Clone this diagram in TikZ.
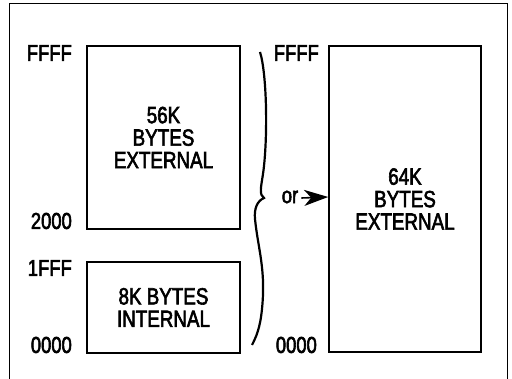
\documentclass[tikz,border=0pt]{standalone}
\usepackage{fontspec}
\setmainfont{Liberation Sans}[FakeStretch=0.8,FakeBold=2.5]
\usetikzlibrary{shapes,arrows.meta,positioning,calc}

\tikzset{
  membox/.style={draw, line width=1.6pt, inner sep=0pt, align=center,
    font=\fontsize{23.5}{22.5}\selectfont},
  addr/.style={inner sep=0pt, font=\fontsize{23}{22}\selectfont}
}

\begin{document}
\begin{tikzpicture}[x=1pt,y=1pt]
  \useasboundingbox (0,0) rectangle (512,379);
  \draw[line width=0.9pt] (9,0) -- (9,376) -- (507,376) -- (507,0);
  \node[membox, minimum width=153, minimum height=183] (ext56) at (163.5,241.5) {56K\\BYTES\\EXTERNAL};
  \node[membox, minimum width=153, minimum height=91] (int8) at (163.5,71.5) {8K BYTES\\INTERNAL};
  \node[membox, minimum width=152, minimum height=306] (ext64) at (405,180) {64K\\BYTES\\EXTERNAL};
  \node[addr, anchor=east] (hiA) at (72,326) {FFFF};
  \node[addr, anchor=east] (midA) at (72,158) {2000};
  \node[addr, anchor=east] (midB) at (72,111) {1FFF};
  \node[addr, anchor=east] (loA) at (72,34) {0000};
  \node[addr, anchor=east] (hiB) at (319,326) {FFFF};
  \node[addr, anchor=east] (loB) at (317,34) {0000};
  \draw[line width=2.2pt] (260,327) .. controls (267,305) and (268,240) .. (263,205)
    .. controls (261,192) and (259,184) .. (264,181)
    .. controls (257,178) and (254,170) .. (255,160)
    .. controls (258,130) and (266,110) .. (262,70)
    .. controls (260,50) and (256,42) .. (252,34);
  \node[addr] (orlbl) at (290,182) {or};
  \draw[line width=1.6pt, -{Stealth[length=24pt,width=16pt,inset=7pt]}] (orlbl.east) ++(3,-1) -- (ext64.west |- orlbl.east);
\end{tikzpicture}
\end{document}
